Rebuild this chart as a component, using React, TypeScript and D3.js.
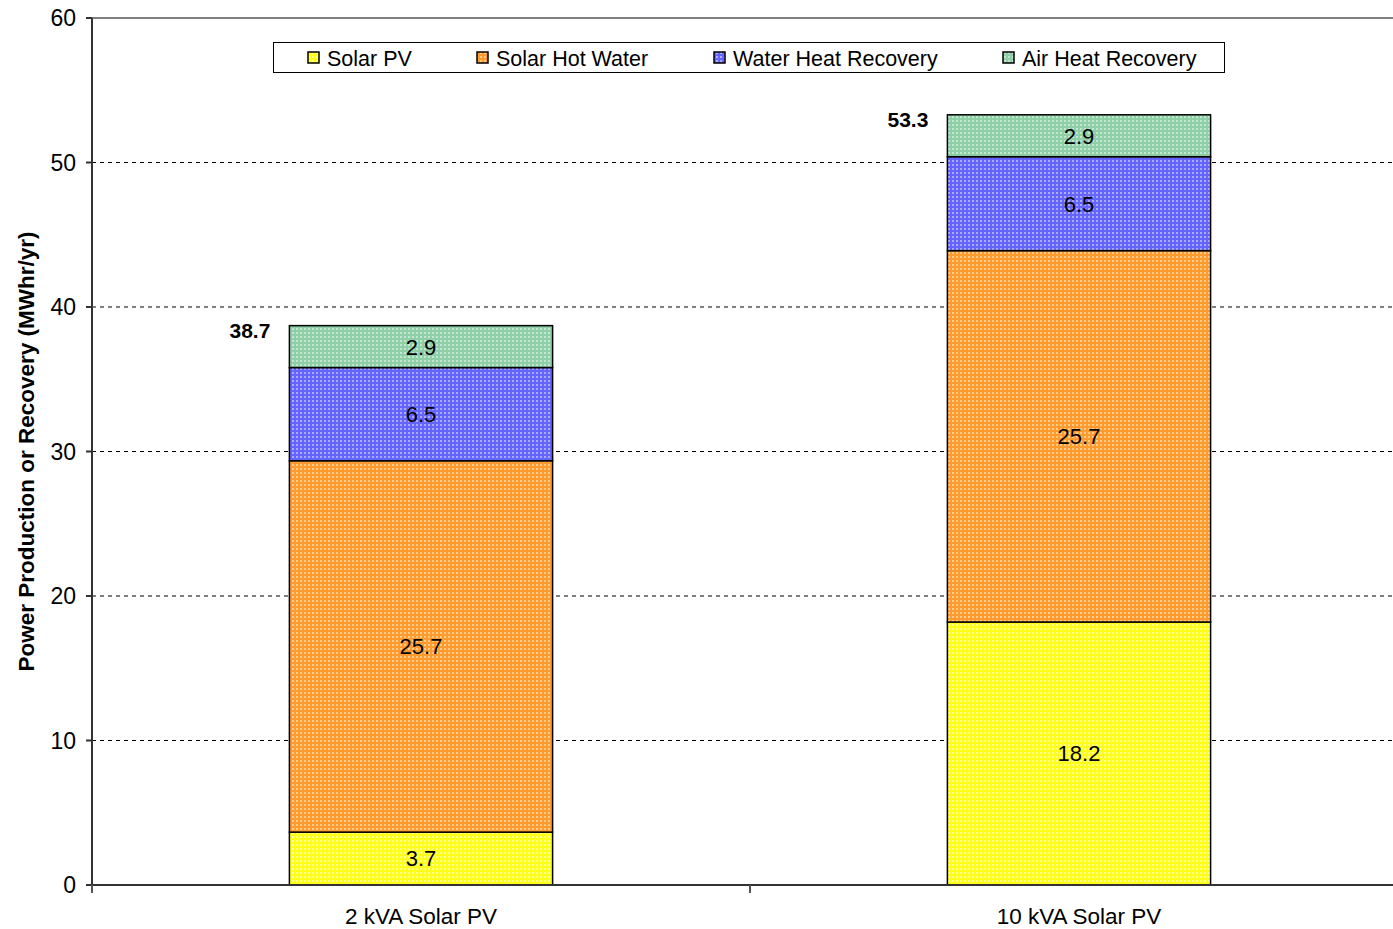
import * as d3 from 'd3'

const CATEGORIES = ['2 kVA Solar PV', '10 kVA Solar PV']
const SERIES = ['Solar PV', 'Solar Hot Water', 'Water Heat Recovery', 'Air Heat Recovery']

// values per category, in series order
const SOLAR_PV = [3.66, 18.2]
const SOLAR_HOT_WATER = [25.7, 25.7]
const WATER_HEAT = [6.45, 6.5]
const AIR_HEAT = [2.9, 2.9]

const Y_TICKS = [0, 10, 20, 30, 40, 50, 60]

const COLORS = ['#ffff1a', '#ff9a2e', '#6464ff', '#8fcfa8']
const DOTS = ['#ffffb0', '#ffd9a0', '#c8c8ff', '#d8f0e0']

const W = 1393
const H = 929
const M = { left: 92, top: 18, bottom: 885 }
const FONT = 'Liberation Sans, Arial, sans-serif'

export default function App() {
  const seriesValues = [SOLAR_PV, SOLAR_HOT_WATER, WATER_HEAT, AIR_HEAT]
  const rows = CATEGORIES.map((c, i) => {
    const r: any = { cat: c }
    SERIES.forEach((s, j) => (r[s] = seriesValues[j][i]))
    return r
  })
  const stacked = d3.stack().keys(SERIES)(rows)

  const x = d3.scaleBand().domain(CATEGORIES).range([M.left, 1408]).paddingInner(0).paddingOuter(0)
  const y = d3.scaleLinear().domain([0, 60]).range([M.bottom, M.top])
  const barW = x.bandwidth() * 0.4

  return (
    <svg width={W} height={H} style={{ position: 'absolute', left: 0, top: 0 }} fontFamily={FONT}>
      <defs>
        {COLORS.map((c, i) => (
          <pattern key={i} id={`pat${i}`} width={4} height={4} patternUnits="userSpaceOnUse">
            <rect width={4} height={4} fill={c} />
            <rect x={0} y={0} width={2} height={2} fill={DOTS[i]} opacity={i === 2 || i === 3 ? 0.7 : 0.8} />
          </pattern>
        ))}
      </defs>
      <rect width={W} height={H} fill="white" />

      {/* gridlines */}
      {Y_TICKS.filter(t => t > 0 && t < 60).map(t => (
        <line key={t} x1={M.left} x2={W} y1={y(t)} y2={y(t)} stroke="#000" strokeWidth={1} strokeDasharray="4,4" />
      ))}
      <line x1={M.left} x2={W} y1={y(60)} y2={y(60)} stroke="#808080" strokeWidth={2} />

      {/* bars */}
      {stacked.map((layer, si) => (
        <g key={layer.key}>
          {layer.map((d, ci) => {
            const cx = x(CATEGORIES[ci])! + x.bandwidth() / 2
            const y0 = y(d[0])
            const y1 = y(d[1])
            return (
              <g key={ci}>
                <rect x={cx - barW / 2} y={y1} width={barW} height={y0 - y1} fill={`url(#pat${si})`} stroke="#000" strokeWidth={1.5} />
                <text x={cx} y={(y0 + y1) / 2} dy="0.36em" textAnchor="middle" fontSize={22} fill="#000">
                  {seriesValues[si][ci].toFixed(1)}
                </text>
              </g>
            )
          })}
        </g>
      ))}

      {/* totals */}
      {CATEGORIES.map((c, ci) => {
        const total = d3.sum(seriesValues, v => v[ci])
        const cx = x(c)! + x.bandwidth() / 2
        return (
          <text key={c} x={cx - barW / 2 - 19} y={y(total) + 5} dy="0.36em" textAnchor="end" fontSize={21} fontWeight="bold">
            {total.toFixed(1)}
          </text>
        )
      })}

      {/* axes */}
      <line x1={M.left} x2={M.left} y1={M.top} y2={M.bottom} stroke="#333" strokeWidth={2} />
      <line x1={M.left} x2={W} y1={M.bottom} y2={M.bottom} stroke="#333" strokeWidth={2} />
      {Y_TICKS.map(t => (
        <g key={t}>
          <line x1={M.left - 6} x2={M.left} y1={y(t)} y2={y(t)} stroke="#333" strokeWidth={2} />
          <text x={M.left - 16} y={y(t)} dy="0.36em" textAnchor="end" fontSize={23}>{t}</text>
        </g>
      ))}
      {[M.left, M.left + x.bandwidth()].map(px => (
        <line key={px} x1={px} x2={px} y1={M.bottom} y2={M.bottom + 8} stroke="#555" strokeWidth={2} />
      ))}
      {CATEGORIES.map(c => (
        <text key={c} x={x(c)! + x.bandwidth() / 2} y={916} dy="0.36em" textAnchor="middle" fontSize={22.5}>{c}</text>
      ))}
      <text transform={`translate(26, ${(M.top + M.bottom) / 2}) rotate(-90)`} dy="0.36em" textAnchor="middle" fontSize={22.5} fontWeight="bold">
        Power Production or Recovery (MWhr/yr)
      </text>

      {/* legend */}
      <rect x={273.5} y={42.5} width={951} height={30} fill="white" stroke="#000" strokeWidth={1} />
      {SERIES.map((s, i) => {
        const lx = [308, 477, 714, 1003][i]
        return (
          <g key={s}>
            <rect x={lx} y={52} width={11} height={11} fill={`url(#pat${i})`} stroke="#000" strokeWidth={1.5} />
            <text x={lx + 19} y={58} dy="0.36em" fontSize={21.5}>{s}</text>
          </g>
        )
      })}
    </svg>
  )
}
